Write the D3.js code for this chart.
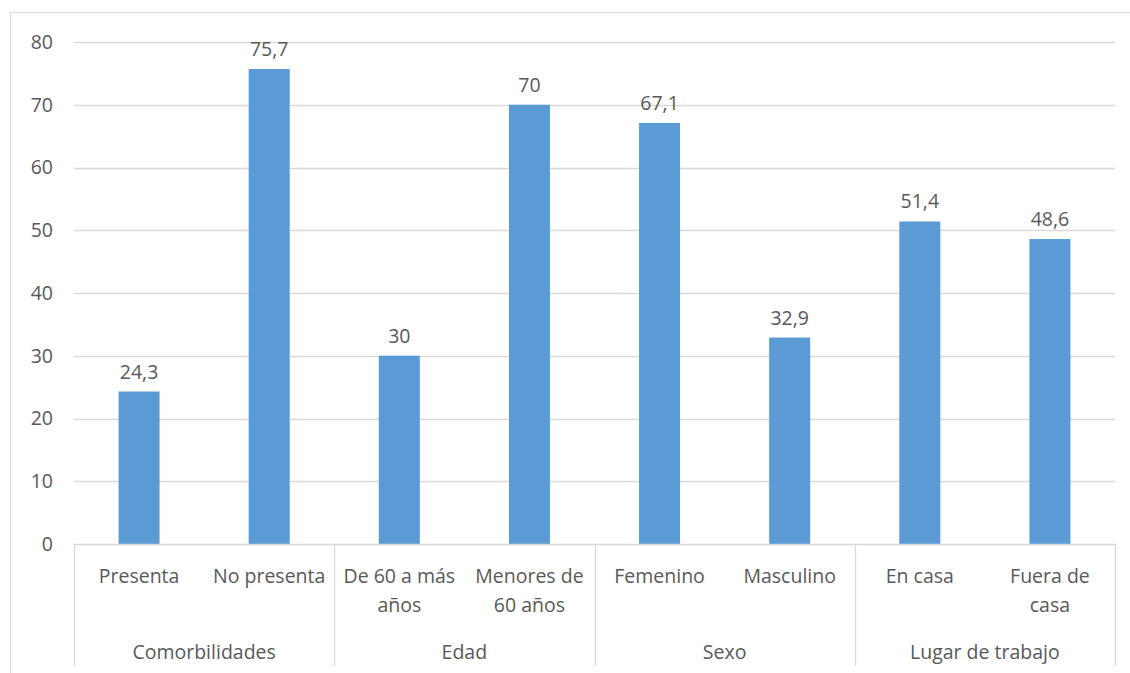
<!DOCTYPE html>
<html>
<head>
<meta charset="utf-8">
<script src="https://cdn.jsdelivr.net/npm/d3@7"></script>
<style>
  html, body { margin: 0; padding: 0; background: #fff; }
  svg { display: block; }
  text { font-family: "Open Sans", "Liberation Sans", Arial, sans-serif; fill: #595959; }
</style>
</head>
<body>
<svg id="chart" width="1130" height="673"></svg>
<script>
// Category labels (each may wrap onto two lines)
const categories = [
  ["Presenta"],
  ["No presenta"],
  ["De 60 a más", "años"],
  ["Menores de", "60 años"],
  ["Femenino"],
  ["Masculino"],
  ["En casa"],
  ["Fuera de", "casa"]
];
// Group labels, two categories per group
const groups = ["Comorbilidades", "Edad", "Sexo", "Lugar de trabajo"];
const groupSize = 2;
// Percentages
const values = [24.3, 75.7, 30, 70, 67.1, 32.9, 51.4, 48.6];
const yTicks = [0, 10, 20, 30, 40, 50, 60, 70, 80];

const svg = d3.select("#chart");
const W = 1130, H = 673;
const plot = { left: 74, right: 1115, top: 42, bottom: 544 };
const fs = "19.5px";

// Outer chart frame
svg.append("rect")
  .attr("x", 10.5).attr("y", 12.5)
  .attr("width", W).attr("height", H)
  .attr("fill", "none").attr("stroke", "#d9d9d9").attr("stroke-width", 1);

const idx = categories.map((_, i) => i);
const x = d3.scaleBand().domain(idx).range([plot.left, plot.right]).paddingInner(0.685).paddingOuter(0.3425);
const xOuter = d3.scaleBand().domain(idx).range([plot.left, plot.right]);
const y = d3.scaleLinear().domain([0, 80]).range([plot.bottom, plot.top]);

// Horizontal gridlines
svg.append("g").selectAll("line").data(yTicks.filter(t => t > 0)).join("line")
  .attr("x1", plot.left).attr("x2", plot.right)
  .attr("y1", d => Math.round(y(d)) + 0.5).attr("y2", d => Math.round(y(d)) + 0.5)
  .attr("stroke", "#d9d9d9").attr("stroke-width", 1.3);

// Y axis tick labels
const yAxis = d3.axisLeft(y).tickValues(yTicks).tickSize(0).tickPadding(0);
const gy = svg.append("g").attr("transform", `translate(${plot.left - 21},0)`).call(yAxis);
gy.select(".domain").remove();
gy.selectAll("text")
  .style("font-size", fs).attr("fill", "#595959")
  .attr("font-family", "'Open Sans', 'Liberation Sans', Arial, sans-serif");

// Bars
svg.append("g").selectAll("rect").data(values).join("rect")
  .attr("x", (d, i) => x(i)).attr("width", x.bandwidth())
  .attr("y", d => y(d)).attr("height", d => y(0) - y(d))
  .attr("fill", "#5b9bd5");

// Value labels
svg.append("g").selectAll("text").data(values).join("text")
  .attr("x", (d, i) => x(i) + x.bandwidth() / 2)
  .attr("y", d => y(d) - 13)
  .attr("text-anchor", "middle")
  .style("font-size", fs)
  .text(d => String(d).replace(".", ","));

// Category axis line
svg.append("line")
  .attr("x1", plot.left).attr("x2", plot.right)
  .attr("y1", plot.bottom + 0.5).attr("y2", plot.bottom + 0.5)
  .attr("stroke", "#d9d9d9").attr("stroke-width", 1.3);

// Group separators
const sepX = d3.range(0, categories.length + 1, groupSize)
  .map(i => i < categories.length ? xOuter(i) : plot.right);
svg.append("g").selectAll("line").data(sepX).join("line")
  .attr("x1", d => Math.round(d) + 0.5).attr("x2", d => Math.round(d) + 0.5)
  .attr("y1", plot.bottom).attr("y2", 666)
  .attr("stroke", "#d9d9d9").attr("stroke-width", 1.3);

// Category labels
const catG = svg.append("g").selectAll("text").data(categories).join("text")
  .attr("text-anchor", "middle")
  .style("font-size", fs);
catG.selectAll("tspan").data((d, i) => d.map(s => ({ s, i }))).join("tspan")
  .attr("x", d => xOuter(d.i) + xOuter.bandwidth() / 2)
  .attr("y", (d, j) => 583 + j * 29)
  .text(d => d.s);

// Group labels
svg.append("g").selectAll("text").data(groups).join("text")
  .attr("x", (d, i) => xOuter(i * groupSize) + xOuter.bandwidth() * groupSize / 2)
  .attr("y", 659)
  .attr("text-anchor", "middle")
  .style("font-size", fs)
  .text(d => d);
</script>
</body>
</html>
